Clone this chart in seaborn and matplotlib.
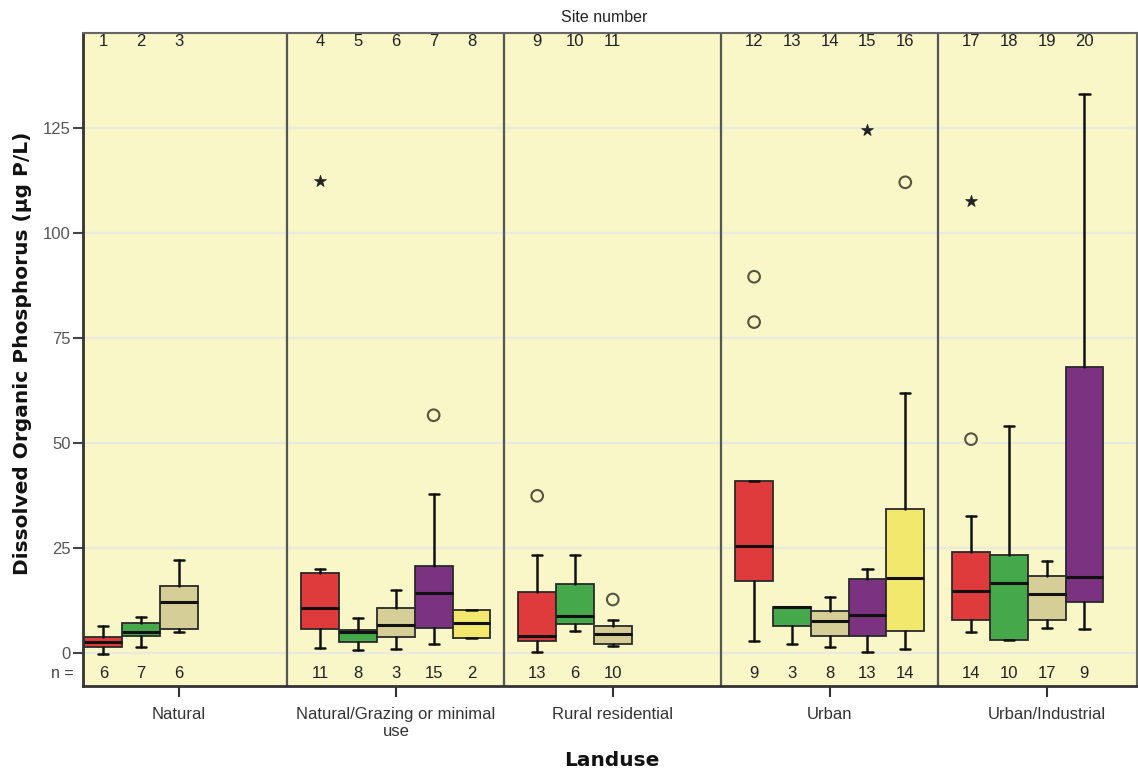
import pandas as pd
import seaborn as sns
import matplotlib.pyplot as plt

sns.set_theme(style="white")
plt.rcParams['font.family'] = ['Liberation Sans', 'DejaVu Sans']

# landuse groups and the sites in each one
landuses = ["Natural", "Natural/Grazing or minimal\nuse", "Rural residential",
            "Urban", "Urban/Industrial"]
sites = list(range(1, 21))
site_landuse = [0, 0, 0, 1, 1, 1, 1, 1, 2, 2, 2, 3, 3, 3, 3, 3, 4, 4, 4, 4]
site_group = ["red", "green", "tan", "red", "green", "tan", "purple", "yellow",
              "red", "green", "tan", "red", "green", "tan", "purple", "yellow",
              "red", "green", "tan", "purple"]
n_obs = [6, 7, 6, 11, 8, 3, 15, 2, 13, 6, 10, 9, 3, 8, 13, 14, 14, 10, 17, 9]

# box summaries (ug P/L)
whis_lo = [-0.2, 1.3, 5.0, 1.1, 0.6, 0.8, 2.2, 3.6, 0.3, 5.1,
           1.7, 2.9, 2.0, 1.5, 0.2, 1.0, 5.0, 3.0, 5.9, 5.6]
q1 = [1.5, 3.9, 5.7, 5.6, 2.5, 3.8, 5.8, 3.6, 2.8, 6.9,
      2.1, 17.2, 6.3, 4.0, 4.0, 5.2, 7.8, 3.0, 7.8, 12.0]
med = [2.6, 5.0, 12.1, 10.7, 5.0, 6.6, 14.3, 7.0, 4.1, 8.7,
       4.5, 25.4, 10.9, 7.5, 9.0, 17.8, 14.7, 16.6, 13.9, 18.1]
q3 = [3.7, 7.1, 15.9, 18.9, 5.5, 10.7, 20.7, 10.2, 14.4, 16.4,
      6.3, 41.0, 10.9, 9.9, 17.7, 34.2, 24.1, 23.4, 18.3, 68.2]
whis_hi = [6.3, 8.6, 22.0, 19.9, 8.4, 15.0, 37.8, 10.2, 23.2, 23.2,
           7.7, 41.0, 10.9, 13.4, 19.9, 61.9, 32.6, 54.1, 21.9, 133.1]

# outliers (circles) and extremes (stars)
outlier_site = [7, 9, 11, 12, 12, 16, 17]
outlier_val = [56.6, 37.4, 12.7, 89.6, 78.8, 112.1, 50.9]
extreme_site = [4, 15, 17]
extreme_val = [112.4, 124.5, 107.6]

palette = {"red": "#df3b3d", "green": "#45a94c", "tan": "#d6ce97",
           "purple": "#7b3281", "yellow": "#f3e86e"}

PANEL = 5.74  # panel width in box slots

df = pd.DataFrame({"site": sites, "landuse": site_landuse, "group": site_group,
                   "n": n_obs})
df["slot"] = df.groupby("landuse").cumcount()
df["pos"] = df["landuse"] * PANEL + df["slot"] - 2
pos = dict(zip(df["site"], df["pos"]))

fig = plt.figure(figsize=(11.38, 7.71), dpi=100)
ax = fig.add_axes([0.0732, 0.1103, 0.9262, 0.8465])
ax.set_facecolor("#f9f6c8")

stats = []
for i in range(len(sites)):
    stats.append({"whislo": whis_lo[i], "q1": q1[i], "med": med[i],
                  "q3": q3[i], "whishi": whis_hi[i], "fliers": []})

bp = ax.bxp(stats, positions=list(df["pos"]), widths=1.0, capwidths=0.27,
            patch_artist=True, showfliers=False, manage_ticks=False,
            boxprops=dict(edgecolor="#2a2a2a", linewidth=1.3),
            medianprops=dict(color="#111111", linewidth=2.2),
            whiskerprops=dict(color="#111111", linewidth=1.8),
            capprops=dict(color="#111111", linewidth=1.8))
for patch, g in zip(bp["boxes"], df["group"]):
    patch.set_facecolor(palette[g])

out = pd.DataFrame({"x": [pos[s] for s in outlier_site], "y": outlier_val})
ext = pd.DataFrame({"x": [pos[s] for s in extreme_site], "y": extreme_val})
sns.scatterplot(data=out, x="x", y="y", ax=ax, marker="o", s=70,
                facecolor="none", edgecolor="#55553f", linewidth=1.5, zorder=5)
sns.scatterplot(data=ext, x="x", y="y", ax=ax, marker="*", s=80,
                color="#222222", edgecolor="#222222", linewidth=0.5, zorder=5)

# panel dividers
for k in range(len(landuses) - 1):
    ax.axvline((k + 0.5) * PANEL, color="#555555", linewidth=1.6, zorder=1)

ax.set_ylim(-7.9, 147.6)
ax.set_xlim(-2.53, 25.36)
ax.set_yticks([0, 25, 50, 75, 100, 125])
ax.yaxis.grid(True, color="#ebeadf", linewidth=1.6)
ax.set_axisbelow(True)
ax.set_xticks([k * PANEL for k in range(len(landuses))])
ax.set_xticklabels(landuses, fontsize=12, color="#333333")
ax.tick_params(axis="x", length=8, width=1.5, color="#333333", pad=7,
               bottom=True)
ax.tick_params(axis="y", length=7, width=1.5, color="#444444", pad=2,
               labelsize=12, labelcolor="#555555", left=True)

for side in ["left", "bottom"]:
    ax.spines[side].set_color("#333333")
    ax.spines[side].set_linewidth(2)
for side in ["top", "right"]:
    ax.spines[side].set_color("#666666")
    ax.spines[side].set_linewidth(1.5)

# site numbers along the top and counts along the bottom
for s, p, n in zip(df["site"], df["pos"], df["n"]):
    ax.text(p, 145.6, str(s), ha="center", va="center", fontsize=12,
            color="#222222")
    ax.text(p, -4.9, str(n), ha="center", va="center", fontsize=12,
            color="#222222")
ax.text(-0.02, -4.9, "n =", transform=ax.get_yaxis_transform(),
        ha="center", va="center", fontsize=11.5, color="#444444")
fig.text(604 / 1138, 1 - 18 / 771, "Site number", ha="center", va="center",
         fontsize=11.5, color="#222222")

ax.set_ylabel("Dissolved Organic Phosphorus (µg P/L)", fontsize=14.5,
              fontweight="bold", family="DejaVu Sans", color="#111111")
ax.yaxis.set_label_coords(-0.0487, 0.51)
ax.set_xlabel("Landuse", fontsize=14.5, fontweight="bold", family="DejaVu Sans",
              color="#111111", va="top")
ax.xaxis.set_label_coords(0.5016, -0.0995)

fig.savefig("out.png", dpi=100)
